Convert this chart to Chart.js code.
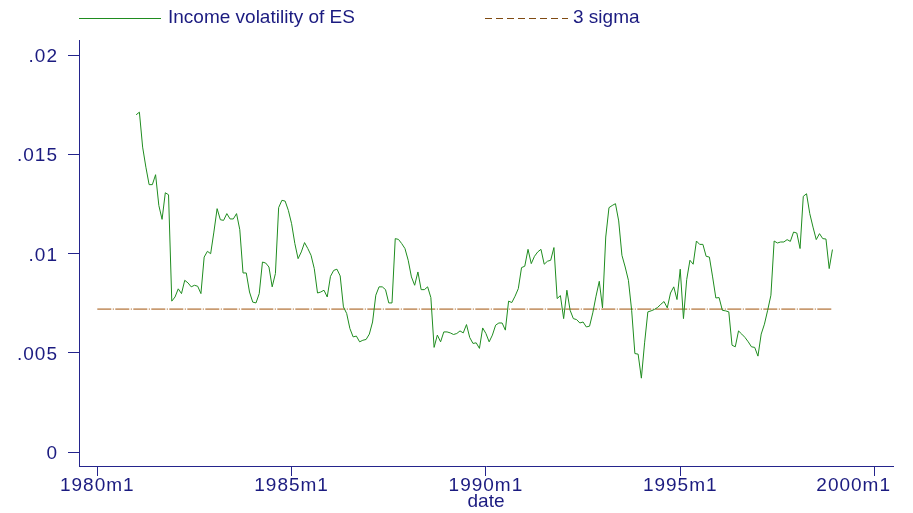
<!DOCTYPE html>
<html><head><meta charset="utf-8">
<script src="https://cdn.jsdelivr.net/npm/chart.js@4"></script>
<style>html,body{margin:0;padding:0;background:#fff;}#wrap{width:913px;height:513px;position:relative;}</style>
</head><body><div id="wrap"><canvas id="c" width="913" height="513"></canvas></div>
<script>
const seriesLabel = 'Income volatility of ES';
const sigmaLabel = '3 sigma';
const xTitle = 'date';
const seriesStart = '1981m1';
const volatility = [
 0.01699,0.01712,0.01536,0.01435,0.01347,0.01347,0.01397,0.01242,0.01172,0.01306,0.01296,0.00760,
 0.00781,0.00822,0.00798,0.00865,0.00852,0.00832,0.00840,0.00835,0.00798,0.00982,0.01011,0.00999,
 0.01108,0.01226,0.01170,0.01167,0.01201,0.01174,0.01174,0.01201,0.01120,0.00902,0.00902,0.00806,
 0.00755,0.00751,0.00798,0.00957,0.00952,0.00932,0.00832,0.00899,0.01231,0.01268,0.01264,0.01217,
 0.01150,0.01050,0.00974,0.01008,0.01055,0.01025,0.00991,0.00924,0.00801,0.00806,0.00815,0.00781,
 0.00885,0.00915,0.00921,0.00887,0.00731,0.00698,0.00622,0.00580,0.00584,0.00555,0.00563,0.00567,
 0.00594,0.00655,0.00790,0.00832,0.00832,0.00818,0.00751,0.00751,0.01075,0.01071,0.01050,0.01025,
 0.00966,0.00882,0.00840,0.00907,0.00818,0.00818,0.00832,0.00778,0.00527,0.00589,0.00555,0.00605,
 0.00605,0.00600,0.00592,0.00597,0.00610,0.00600,0.00642,0.00577,0.00547,0.00550,0.00522,0.00625,
 0.00597,0.00555,0.00589,0.00639,0.00650,0.00650,0.00614,0.00760,0.00753,0.00785,0.00823,0.00929,
 0.00936,0.01021,0.00949,0.00986,0.01008,0.01021,0.00946,0.00961,0.00966,0.01030,0.00773,0.00788,
 0.00672,0.00815,0.00714,0.00672,0.00667,0.00650,0.00655,0.00630,0.00634,0.00701,0.00785,0.00860,
 0.00726,0.01083,0.01231,0.01242,0.01251,0.01164,0.00991,0.00932,0.00865,0.00714,0.00496,0.00493,
 0.00372,0.00550,0.00706,0.00711,0.00718,0.00728,0.00744,0.00758,0.00726,0.00801,0.00832,0.00768,
 0.00921,0.00672,0.00869,0.00966,0.00946,0.01063,0.01046,0.01046,0.00986,0.00982,0.00882,0.00776,
 0.00778,0.00714,0.00711,0.00706,0.00538,0.00530,0.00610,0.00594,0.00577,0.00555,0.00530,0.00527,
 0.00483,0.00594,0.00644,0.00714,0.00790,0.01063,0.01053,0.01058,0.01058,0.01070,0.01061,0.01108,
 0.01103,0.01025,0.01288,0.01301,0.01201,0.01133,0.01070,0.01100,0.01075,0.01073,0.00924,0.01020
];
const sigmaLevel = 0.0072;
const sigmaRange = ['1980m1', '1998m12'];
const xTickLabels = ['1980m1','1985m1','1990m1','1995m1','2000m1'];
const yTickValues = [0, 0.005, 0.01, 0.015, 0.02];
const yTickLabels = ['0','.005','.01','.015','.02'];

function parseTm(s){ const p = s.split('m').map(Number); return (p[0]-1960)*12 + (p[1]-1); }
function fmtTm(v){ return (1960+Math.floor(v/12))+'m'+(v%12+1); }

const t0 = parseTm(seriesStart);
const seriesData = volatility.map((v,i)=>({x:t0+i, y:v}));
const sigmaData = sigmaRange.map(s=>({x:parseTm(s), y:sigmaLevel}));
const xTickValues = xTickLabels.map(parseTm);

const NAVY = '#1b1b80';
const AXIS = '#24248c';
const GREEN = '#1f8c1f';
const BROWN = '#a0520a';
const FONT = '"Liberation Sans", Arial, Helvetica, sans-serif';

const legendPlugin = {
  id: 'stataLegend',
  afterDraw(chart){
    const ctx = chart.ctx;
    const items = [
      {x0:79, x1:161, tx:168, color:GREEN, dash:[], text:chart.data.datasets[0].label},
      {x0:485, x1:568, tx:573, color:'#7f4a12', dash:[7,4], text:chart.data.datasets[1].label}
    ];
    ctx.save();
    items.forEach(it=>{
      ctx.beginPath();
      ctx.setLineDash(it.dash);
      ctx.strokeStyle = it.color;
      ctx.lineWidth = 1;
      ctx.moveTo(it.x0, 18.5); ctx.lineTo(it.x1, 18.5);
      ctx.stroke();
      ctx.setLineDash([]);
      ctx.fillStyle = NAVY;
      ctx.font = '19px ' + FONT;
      ctx.textBaseline = 'middle';
      ctx.textAlign = 'left';
      ctx.fillText(it.text, it.tx, 18);
    });
    ctx.restore();
  }
};

const labelTweakPlugin = {
  id: 'labelTweak',
  beforeDraw(chart){
    const sx = chart.scales.x, sy = chart.scales.y;
    const xi = sx.getLabelItems(chart.chartArea);
    if (xi.length){
      const last = xi[xi.length-1];
      last.options.textAlign = 'right';
      last.options.translation[0] = chart.chartArea.right - 2;
    }
    const yi = sy.getLabelItems(chart.chartArea);
    yi.forEach(it => { it.options.translation[1] += 2; });
    [sx, sy].forEach(s => {
      if (!s._lsPatched){
        const orig = s.drawLabels;
        s.drawLabels = function(ca){
          const c = this.ctx; c.save(); c.letterSpacing = '1px'; orig.call(this, ca); c.restore();
        };
        s._lsPatched = true;
      }
    });
  }
};

new Chart(document.getElementById('c'), {
  type: 'line',
  data: {
    datasets: [
      {label: seriesLabel, data: seriesData, borderColor: GREEN, borderWidth: 1, pointRadius: 0, tension: 0, fill: false},
      {label: sigmaLabel, data: sigmaData, borderColor: BROWN, borderWidth: 1, borderDash: [14,1.5,1,1.5], pointRadius: 0, fill: false}
    ]
  },
  options: {
    responsive: false,
    animation: false,
    devicePixelRatio: 1,
    layout: {autoPadding: false, padding: {top: 40, right: 20, left: 0, bottom: 0}},
    plugins: {legend: {display: false}, tooltip: {enabled: false}},
    font: {family: FONT, size: 19},
    scales: {
      x: {
        type: 'linear',
        min: -5.65 + parseTm('1980m1'),
        max: 245.7 + parseTm('1980m1'),
        afterBuildTicks: s => { s.ticks = xTickValues.map(v=>({value:v})); },
        afterFit: s => { s.height = 47; },
        ticks: {
          callback: (v) => { const i = xTickValues.indexOf(v); return i >= 0 ? xTickLabels[i] : fmtTm(v); },
          color: NAVY, font: {family: FONT, size: 19, lineHeight: 1}, padding: 0, maxRotation: 0, autoSkip: false
        },
        grid: {drawOnChartArea: false, drawTicks: true, tickLength: 10, tickColor: AXIS},
        border: {display: true, color: AXIS, width: 1},
        title: {display: true, text: xTitle, color: NAVY, font: {family: FONT, size: 19, lineHeight: 1}, padding: {top: 0, bottom: 1.5}}
      },
      y: {
        type: 'linear',
        min: -0.000705,
        max: 0.020756,
        afterBuildTicks: s => { s.ticks = yTickValues.map(v=>({value:v})); },
        afterFit: s => { s.width = 79; },
        ticks: {
          callback: (v) => { const i = yTickValues.indexOf(v); return i >= 0 ? yTickLabels[i] : String(v); },
          color: NAVY, font: {family: FONT, size: 19}, padding: 10
        },
        grid: {drawOnChartArea: false, drawTicks: true, tickLength: 11, tickColor: AXIS},
        border: {display: true, color: AXIS, width: 1}
      }
    }
  },
  plugins: [legendPlugin, labelTweakPlugin]
});
</script>
</body></html>
